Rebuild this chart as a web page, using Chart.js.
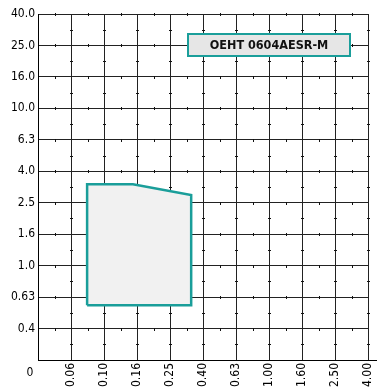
<!DOCTYPE html>
<html>
<head>
<meta charset="utf-8">
<script src="https://cdn.jsdelivr.net/npm/chart.js@4/dist/chart.umd.min.js"></script>
<style>
html,body{margin:0;padding:0;background:#fff;}
#wrap{width:377px;height:392px;position:relative;}
</style>
</head>
<body>
<div id="wrap"><canvas id="c" width="377" height="392"></canvas></div>
<script>
// Tick labels (equally spaced, log-like grid)
const xTickLabels = ["0", "0.06", "0.10", "0.16", "0.25", "0.40", "0.63", "1.00", "1.60", "2.50", "4.00"];
const yTickLabels = ["0", "0.4", "0.63", "1.0", "1.6", "2.5", "4.0", "6.3", "10.0", "16.0", "25.0", "40.0"];
// Polygon outline (real values)
const regionX = [0.077, 0.077, 0.151, 0.338, 0.338, 0.077];
const regionY = [0.56, 3.3, 3.3, 2.8, 0.56, 0.56];
const boxLabel = "OEHT 0604AESR-M";

const TEAL = "#1a9e9a";
const FONT = "'DejaVu Sans Condensed','Liberation Sans Narrow',sans-serif";

// map a real value to the position on the equally spaced tick grid
function toPos(v, labels) {
  const vals = labels.map(Number);
  for (let i = 1; i < vals.length - 1; i++) {
    if (v <= vals[i + 1]) {
      return i + Math.log(v / vals[i]) / Math.log(vals[i + 1] / vals[i]);
    }
  }
  return vals.length - 1;
}
const regionPts = regionX.map((x, i) => ({ x: toPos(x, xTickLabels), y: toPos(regionY[i], yTickLabels) }));

const decor = {
  id: 'decor',
  beforeDatasetsDraw(chart) {
    const ctx = chart.ctx, xs = chart.scales.x, ys = chart.scales.y;
    ctx.save();
    ctx.strokeStyle = '#111';
    ctx.lineWidth = 1;
    ctx.beginPath();
    for (let i = 1; i < yTickLabels.length; i++) {
      const py = Math.round(ys.getPixelForValue(i)) + 0.5;
      for (let j = 0; j < xTickLabels.length - 1; j++) {
        const px = Math.round(xs.getPixelForValue(j + 0.5)) + 0.5;
        ctx.moveTo(px, py - 1.5); ctx.lineTo(px, py + 1.5);
      }
    }
    for (let j = 1; j < xTickLabels.length; j++) {
      const px = Math.round(xs.getPixelForValue(j)) + 0.5;
      for (let i = 0; i < yTickLabels.length - 1; i++) {
        const py = Math.round(ys.getPixelForValue(i + 0.5)) + 0.5;
        ctx.moveTo(px - 1.5, py); ctx.lineTo(px + 1.5, py);
      }
    }
    ctx.stroke();
    ctx.beginPath();
    ctx.strokeStyle = '#000';
    const by = Math.round(ys.getPixelForValue(0)) + 0.5;
    ctx.moveTo(xs.left, by); ctx.lineTo(chart.width, by);
    ctx.stroke();
    ctx.restore();
  },
  afterDraw(chart) {
    const ctx = chart.ctx, xs = chart.scales.x, ys = chart.scales.y;
    ctx.save();
    ctx.fillStyle = '#000';
    ctx.font = '12px ' + FONT;
    ctx.textAlign = 'center';
    ctx.textBaseline = 'middle';
    ctx.fillText(xTickLabels[0], xs.left - 8, ys.bottom + 13);
    const bx0 = 188, by0 = 34, bw = 162, bh = 22;
    ctx.fillStyle = '#e6e6e6';
    ctx.fillRect(bx0, by0, bw, bh);
    ctx.strokeStyle = TEAL;
    ctx.lineWidth = 2;
    ctx.strokeRect(bx0, by0, bw, bh);
    ctx.fillStyle = '#111';
    ctx.font = 'bold 12.5px ' + FONT;
    ctx.fillText(boxLabel, bx0 + bw / 2, by0 + bh / 2 + 1);
    ctx.restore();
  }
};

new Chart(document.getElementById('c'), {
  type: 'scatter',
  data: {
    datasets: [{
      data: regionPts,
      showLine: true,
      fill: 'shape',
      backgroundColor: '#f1f1f1',
      borderColor: TEAL,
      borderWidth: 2.5,
      pointRadius: 0,
      tension: 0
    }]
  },
  options: {
    responsive: false,
    animation: false,
    layout: { padding: { left: 0, top: 14, right: 9, bottom: 0 } },
    plugins: { legend: { display: false }, tooltip: { enabled: false } },
    scales: {
      x: {
        type: 'linear', min: 0, max: xTickLabels.length - 1,
        afterFit(s) { s.height = 32; s.paddingLeft = 0; s.paddingRight = 0; },
        afterBuildTicks(s) { s.ticks = xTickLabels.map((_, i) => ({ value: i })); },
        ticks: {
          autoSkip: false, minRotation: 90, maxRotation: 90, padding: 3,
          color: '#000', font: { family: FONT, size: 12 },
          callback: (v) => (v === 0 ? '' : xTickLabels[v])
        },
        grid: { color: '#222', lineWidth: 1, drawTicks: false },
        border: { color: '#000', width: 1 }
      },
      y: {
        type: 'linear', min: 0, max: yTickLabels.length - 1,
        afterFit(s) { s.width = 38; s.paddingTop = 0; s.paddingBottom = 0; },
        afterBuildTicks(s) { s.ticks = yTickLabels.map((_, i) => ({ value: i })); },
        ticks: {
          autoSkip: false, padding: 3,
          color: '#000', font: { family: FONT, size: 12 },
          callback: (v) => (v === 0 ? '' : yTickLabels[v])
        },
        grid: { color: '#222', lineWidth: 1, drawTicks: false },
        border: { color: '#000', width: 1 }
      }
    }
  },
  plugins: [decor]
});
</script>
</body>
</html>
